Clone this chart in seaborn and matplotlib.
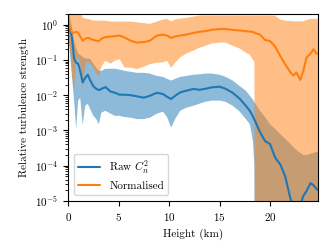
import numpy as np
import pandas as pd
import matplotlib
matplotlib.use('Agg')
import matplotlib.pyplot as plt
import seaborn as sns

sns.set_style('ticks')
plt.rcParams.update({
    'font.family': 'serif',
    'font.serif': ['cmr10', 'DejaVu Serif'],
    'mathtext.fontset': 'cm',
    'axes.formatter.use_mathtext': True,
    'font.size': 8,
    'axes.labelsize': 8,
    'xtick.labelsize': 8,
    'ytick.labelsize': 8,
    'legend.fontsize': 8,
    'axes.edgecolor': 'black',
    'xtick.color': 'black',
    'ytick.color': 'black',
    'axes.labelcolor': 'black',
    'text.color': 'black',
    'axes.linewidth': 0.8,
    'xtick.major.width': 0.8,
    'ytick.major.width': 0.8,
    'xtick.major.size': 3.5,
    'ytick.major.size': 3.5,
    'ytick.minor.size': 2,
    'ytick.minor.width': 0.6,
})

# =========================
#  DATA
# =========================

height = [0, 0.2, 0.4, 0.6, 0.8, 1.0, 1.2, 1.45, 1.7, 1.95,
          2.2, 2.5, 2.8, 3.05, 3.3, 3.7, 4.2, 4.65, 5.1, 5.6,
          6.2, 6.8, 7.5, 8.1, 8.8, 9.4, 9.8, 10.2, 10.6, 11.1,
          11.7, 12.4, 13.0, 13.6, 14.2, 15.0, 15.6, 16.3, 17.0, 17.6,
          18.0, 18.3, 18.45, 18.5, 19.0, 19.5, 20.0, 20.5, 21.0, 21.5,
          22.0, 22.3, 22.6, 23.0, 23.3, 23.6, 24.0, 24.3, 24.6, 24.8]

raw_mean = [1.0, 0.77, 0.40, 0.108, 0.083, 0.078, 0.049, 0.023, 0.031, 0.038,
            0.026, 0.018, 0.015, 0.014, 0.015, 0.017, 0.0127, 0.0117, 0.0103, 0.0103,
            0.010, 0.0093, 0.0085, 0.0096, 0.0117, 0.0108, 0.0090, 0.0078, 0.0096, 0.0120,
            0.0134, 0.0150, 0.0142, 0.0152, 0.0166, 0.0174, 0.0152, 0.0117, 0.0079, 0.0050,
            0.0036, 0.0025, 0.0020, 0.0019, 0.0009, 0.0005, 0.00041, 0.00017, 0.00011, 5e-5,
            1.2e-5, 7e-6, 5e-6, 8e-6, 1.4e-5, 1.9e-5, 3.2e-5, 2.8e-5, 2.2e-5, 2.0e-5]

raw_lo = [0.6, 0.15, 0.03, 0.007, 0.0011, 0.007, 0.0085, 0.0014, 0.005, 0.0057,
          0.004, 0.0026, 0.0021, 0.0015, 0.0032, 0.0036, 0.0030, 0.0026, 0.0026, 0.0024,
          0.0023, 0.0021, 0.0021, 0.0023, 0.0030, 0.0034, 0.0024, 0.0012, 0.0021, 0.0036,
          0.0044, 0.0050, 0.0057, 0.0065, 0.0070, 0.0070, 0.0065, 0.0050, 0.0034, 0.0021,
          0.0015, 5e-4, 1e-4, 1e-9, 1e-9, 1e-9, 1e-9, 1e-9, 1e-9, 1e-9,
          1e-9, 1e-9, 1e-9, 1e-9, 1e-9, 1e-9, 1e-9, 1e-9, 1e-9, 1e-9]

raw_hi = [2.5, 1.6, 0.8, 0.35, 0.22, 0.15, 0.14, 0.12, 0.11, 0.108,
          0.108, 0.078, 0.060, 0.049, 0.049, 0.056, 0.056, 0.056, 0.053, 0.049,
          0.046, 0.043, 0.043, 0.041, 0.035, 0.033, 0.029, 0.026, 0.029, 0.033,
          0.035, 0.038, 0.039, 0.041, 0.041, 0.038, 0.033, 0.026, 0.018, 0.0134,
          0.0096, 0.0075, 0.0062, 0.006, 0.0036, 0.0024, 0.0015, 0.0011, 0.00079, 0.00058,
          0.00042, 0.00034, 0.00028, 0.00023, 0.0002, 0.0002, 0.00022, 0.00023, 0.00025, 0.00025]

norm_mean = [1.07, 0.82, 0.59, 0.59, 0.63, 0.59, 0.46, 0.35, 0.40, 0.42,
             0.40, 0.37, 0.35, 0.34, 0.40, 0.44, 0.46, 0.47, 0.49, 0.43,
             0.35, 0.31, 0.32, 0.35, 0.49, 0.52, 0.49, 0.42, 0.46, 0.49,
             0.52, 0.58, 0.63, 0.65, 0.71, 0.75, 0.75, 0.71, 0.68, 0.65,
             0.64, 0.62, 0.60, 0.58, 0.52, 0.37, 0.34, 0.24, 0.13, 0.075,
             0.045, 0.036, 0.044, 0.027, 0.05, 0.115, 0.15, 0.2, 0.15, 0.16]

norm_lo = [0.6, 0.2, 0.04, 0.0134, 0.095, 0.118, 0.083, 0.015, 0.068, 0.095,
           0.078, 0.061, 0.043, 0.033, 0.064, 0.095, 0.078, 0.095, 0.105, 0.061,
           0.060, 0.055, 0.064, 0.076, 0.083, 0.085, 0.095, 0.060, 0.083, 0.118,
           0.15, 0.183, 0.22, 0.25, 0.29, 0.31, 0.31, 0.25, 0.21, 0.16,
           0.14, 0.10, 0.09, 1e-9, 1e-9, 1e-9, 1e-9, 1e-9, 1e-9, 1e-9,
           1e-9, 1e-9, 1e-9, 1e-9, 1e-9, 1e-9, 1e-9, 1e-9, 1e-9, 1e-9]

norm_hi = [3.0, 2.5, 2.5, 2.5, 2.5, 2.5, 2.5, 1.58, 1.48, 1.45,
           1.39, 1.3, 1.3, 1.3, 1.3, 1.3, 1.22, 1.22, 1.22, 1.22,
           1.22, 1.16, 1.1, 1.05, 1.22, 1.39, 1.45, 1.24, 1.39, 1.48,
           1.55, 1.69, 1.8, 1.8, 1.8, 1.8, 1.8, 1.8, 1.8, 1.8,
           1.8, 1.8, 1.8, 1.8, 1.8, 1.8, 1.8, 1.8, 1.39, 1.3,
           1.26, 1.24, 1.24, 1.24, 1.24, 1.36, 1.45, 1.45, 1.45, 1.45]

labels = ['Raw $C_n^2$', 'Normalised']
colors = ['#1f77b4', '#ff7f0e']


def main():
    df = pd.DataFrame({
        'height': height * 2,
        'value': raw_mean + norm_mean,
        'series': [labels[0]] * len(height) + [labels[1]] * len(height),
    })

    fig = plt.figure(figsize=(3.32, 2.5), dpi=100)
    ax = fig.add_axes([0.205, 0.196, 0.753, 0.748])

    ax.fill_between(height, raw_lo, raw_hi, color=colors[0], alpha=0.5, lw=0)
    ax.fill_between(height, norm_lo, norm_hi, color=colors[1], alpha=0.5, lw=0)

    sns.lineplot(data=df, x='height', y='value', hue='series', palette=colors,
                 estimator=None, sort=False, linewidth=1.5, ax=ax)

    ax.set_yscale('log')
    ax.set_xlim(0, 24.75)
    ax.set_ylim(1e-5, 2)
    ax.set_xticks([0, 5, 10, 15, 20])
    ax.set_xlabel('Height (km)')
    ax.set_ylabel('Relative turbulence strength')

    for s in ax.spines.values():
        s.set_visible(True)

    leg = ax.legend(loc='lower left', title=None)
    leg.get_frame().set_edgecolor('0.8')

    fig.savefig('out.png', dpi=100)
    plt.close(fig)


if __name__ == '__main__':
    main()
